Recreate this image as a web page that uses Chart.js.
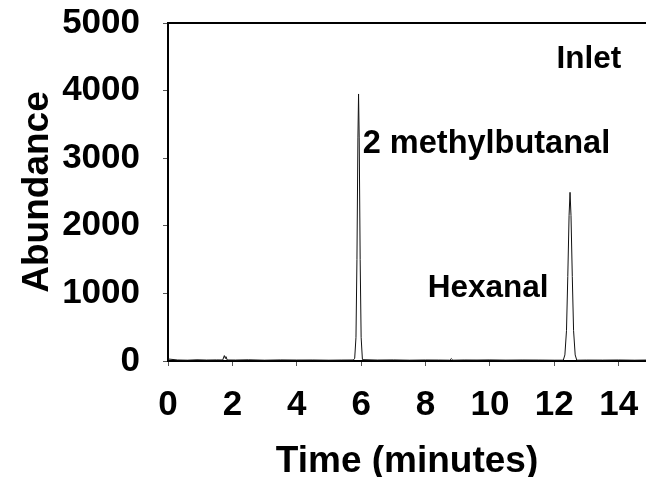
<!DOCTYPE html>
<html>
<head>
<meta charset="utf-8">
<script src="https://cdn.jsdelivr.net/npm/chart.js@4"></script>
<style>
  html, body { margin: 0; padding: 0; background: #fff; }
  #wrap { width: 646px; height: 477px; }
</style>
</head>
<body>
<div id="wrap"><canvas id="c" width="646" height="477"></canvas></div>
<script>
// Retention time (minutes)
const times = [
  0.00, 0.30, 0.60, 0.90, 1.20, 1.50, 1.70, 1.75, 1.78, 1.80, 1.84, 2.10, 2.50, 3.00, 3.50, 4.00, 4.50, 5.00, 5.40, 5.76,
  5.80, 5.84, 5.87, 5.90, 5.92, 5.94, 5.97, 6.00, 6.04,
  6.50, 7.00, 7.50, 8.00, 8.40, 8.75, 8.80, 8.85, 9.20, 9.60, 10.00, 10.50, 11.00, 11.50, 12.00, 12.28,
  12.33, 12.38, 12.42, 12.46, 12.49, 12.52, 12.56, 12.60, 12.65, 12.70,
  13.00, 13.50, 14.00, 14.50, 14.85
];
// Abundance
const abundance = [
  30, 15, 12, 18, 14, 16, 15, 80, 40, 65, 15, 14, 18, 12, 16, 14, 15, 12, 14, 15,
  40, 350, 1500, 3300, 3950, 3300, 1500, 350, 20,
  14, 16, 12, 15, 14, 12, 35, 12, 15, 14, 16, 13, 15, 14, 12, 12,
  90, 450, 1250, 2150, 2495, 2150, 1250, 450, 90, 12,
  14, 13, 15, 12, 14
];
const xTicks = [0, 2, 4, 6, 8, 10, 12, 14];
const yTicks = [0, 1000, 2000, 3000, 4000, 5000];
const peakLabels = ["Inlet", "2 methylbutanal", "Hexanal"];
const peakLabelX = [12.07, 6.05, 8.07];
const peakLabelY = [4334, 3077, 947];

const FONT = "'Liberation Sans', Arial, sans-serif";

const annotate = {
  id: 'annotate',
  afterDraw(chart) {
    const ctx = chart.ctx;
    const xs = chart.scales.x, ys = chart.scales.y;
    const a = chart.chartArea;
    ctx.save();
    ctx.strokeStyle = '#000';
    ctx.lineWidth = 2;
    ctx.beginPath();
    ctx.moveTo(a.left, a.top);
    ctx.lineTo(a.right, a.top);
    ctx.stroke();
    ctx.fillStyle = '#000';
    ctx.textAlign = 'left';
    ctx.textBaseline = 'alphabetic';
    peakLabels.forEach((t, i) => {
      ctx.font = "bold " + (i === 1 ? 32.5 : 31.5) + "px " + FONT;
      ctx.fillText(t, xs.getPixelForValue(peakLabelX[i]), ys.getPixelForValue(peakLabelY[i]));
    });
    ctx.restore();
  }
};

function zeroPad(s) { s.paddingLeft = 0; s.paddingRight = 0; s.paddingTop = 0; s.paddingBottom = 0; }

new Chart(document.getElementById('c'), {
  type: 'scatter',
  data: {
    datasets: [{
      data: times.map((t, i) => ({ x: t, y: abundance[i] })),
      showLine: true,
      borderColor: '#111',
      borderWidth: 1,
      pointRadius: 0,
      tension: 0,
      fill: false
    }]
  },
  options: {
    responsive: false,
    animation: false,
    devicePixelRatio: 1,
    layout: { padding: { top: 23, right: 0, left: 0, bottom: 0 } },
    plugins: { legend: { display: false }, tooltip: { enabled: false } },
    scales: {
      x: {
        type: 'linear',
        min: 0,
        max: 14.85,
        afterBuildTicks: s => { s.ticks = xTicks.map(v => ({ value: v })); },
        afterFit: s => { s.height = 116; zeroPad(s); },
        ticks: {
          includeBounds: false,
          padding: 18,
          color: '#000',
          font: { family: FONT, size: 35, weight: 'bold' },
          maxRotation: 0,
          autoSkip: false,
          callback: v => String(v)
        },
        grid: { drawOnChartArea: false, drawTicks: true, tickLength: 5, tickColor: '#555', tickWidth: 1 },
        border: { display: true, color: '#000', width: 2 },
        title: {
          display: true,
          text: 'Time (minutes)',
          color: '#000',
          font: { family: FONT, size: 37, weight: 'bold', lineHeight: 1 },
          padding: { top: 4, bottom: -3 }
        }
      },
      y: {
        type: 'linear',
        min: 0,
        max: 5000,
        afterBuildTicks: s => { s.ticks = yTicks.map(v => ({ value: v })); },
        afterFit: s => { s.width = 168; zeroPad(s); },
        ticks: {
          padding: 23,
          color: '#000',
          font: { family: FONT, size: 35, weight: 'bold' },
          callback: v => String(v)
        },
        grid: { drawOnChartArea: false, drawTicks: true, tickLength: 5, tickColor: '#555', tickWidth: 1 },
        border: { display: true, color: '#000', width: 2 },
        title: {
          display: true,
          text: 'Abundance',
          color: '#000',
          font: { family: FONT, size: 37, weight: 'bold' },
          padding: { top: 16, bottom: 0 }
        }
      }
    }
  },
  plugins: [annotate]
});
</script>
</body>
</html>
